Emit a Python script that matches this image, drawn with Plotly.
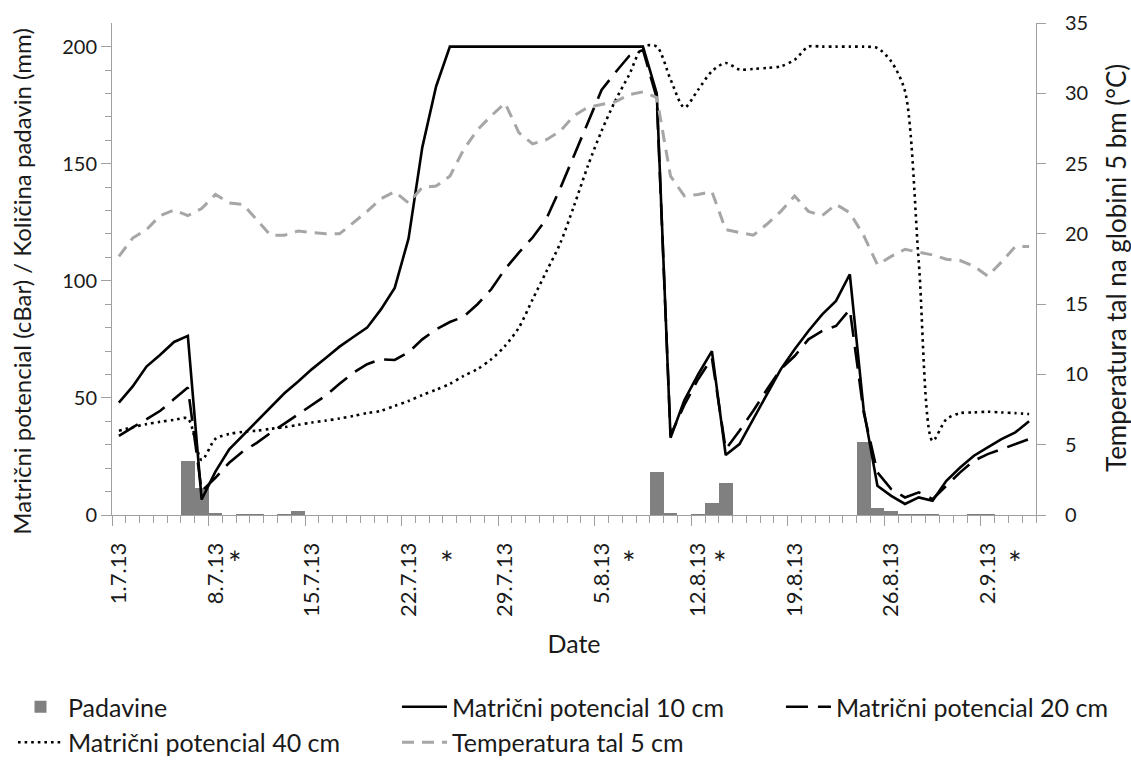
import pandas as pd
import plotly.graph_objects as go

# Daily series, 1.7.2013 - 5.9.2013
start = pd.Timestamp("2013-07-01")
dates = pd.date_range(start, periods=67, freq="D")

# Padavine (mm)
padavine = [0, 0, 0, 0, 0, 23.2, 11.6, 0.5, 0, 0.4, 0.4, 0, 0.4, 1.6, 0, 0, 0, 0, 0, 0,
            0, 0, 0, 0, 0, 0, 0, 0, 0, 0, 0, 0, 0, 0, 0, 0, 0, 0, 0, 18.3,
            0.5, 0, 0.4, 5.0, 13.6, 0, 0, 0, 0, 0, 0, 0, 0, 0, 31.1, 3.2, 1.5, 0.4, 0.4, 0.4,
            0, 0, 0.4, 0.4, 0, 0, 0]

# Matrični potencial 10 cm (cBar)
mp10 = [48.0, 54.9, 63.4, 68.4, 73.9, 76.5, 6.6, 18.5, 28.0, 34.0,
        40.2, 46.2, 52.0, 57.0, 62.3, 67.0, 71.9, 76.0, 80.0, 87.8,
        97.0, 118.0, 157.0, 183.0, 200, 200, 200, 200, 200, 200,
        200, 200, 200, 200, 200, 200, 200, 200, 200, 180.0,
        33.0, 49.0, 60.0, 70.0, 25.6, 30.3, 40.9, 51.6, 62.3, 70.8,
        78.6, 85.7, 91.4, 102.8, 45.2, 12.5, 8.2, 4.7, 7.5, 6.1,
        14.6, 20.3, 25.3, 28.9, 32.4, 35.3, 40.0]

# Matrični potencial 20 cm (cBar)
mp20 = [33.8, 37.4, 40.9, 44.5, 49.5, 54.4, 10.2, 15.9, 22.3, 27.2,
        30.8, 35.1, 39.0, 43.0, 47.0, 51.0, 56.0, 60.8, 64.4, 66.5,
        66.2, 69.5, 75.0, 79.3, 82.4, 84.7, 90.0, 96.4, 105.0, 112.0,
        118.5, 126.5, 139.5, 153.5, 167.0, 181.5, 189.0, 196.0, 198.6, 178.0,
        34.0, 47.0, 58.0, 67.0, 28.1, 36.0, 44.5, 53.7, 62.3, 67.9,
        75.0, 78.6, 80.7, 87.8, 44.0, 18.2, 11.1, 7.5, 9.7, 6.8,
        12.5, 18.2, 23.2, 26.0, 28.1, 30.3, 32.4]

# Matrični potencial 40 cm (cBar)
mp40 = [36.0, 37.5, 38.8, 39.8, 40.6, 41.2, 23.5, 32.5, 34.6, 35.5,
        36.0, 36.8, 37.5, 38.5, 39.5, 40.3, 41.2, 42.3, 43.5, 44.5,
        46.6, 48.7, 51.2, 53.5, 56.0, 59.4, 62.3, 66.5, 72.2, 80.0,
        92.1, 104.0, 116.0, 132.0, 149.0, 164.0, 177.0, 188.0, 200, 200,
        186.0, 174.0, 181.6, 189.5, 193.0, 190.2, 190.5, 190.9, 191.6, 194.4,
        200, 200, 200, 200, 200, 199.4, 193.7, 181.0, 108.0, 31.7,
        40.9, 43.5, 43.8, 44.1, 43.8, 43.5, 43.1]

# Temperatura tal 5 cm (°C)
temp5 = [18.4, 19.7, 20.3, 21.3, 21.7, 21.3, 21.8, 22.8, 22.2, 22.1,
         21.0, 19.9, 19.9, 20.2, 20.1, 20.0, 20.0, 20.8, 21.6, 22.5,
         23.0, 22.2, 23.3, 23.4, 24.1, 26.0, 27.4, 28.4, 29.3, 27.2,
         26.4, 26.7, 27.3, 28.4, 29.0, 29.2, 29.4, 29.9, 30.1, 29.7,
         24.1, 22.7, 22.8, 23.0, 20.3, 20.1, 19.9, 20.7, 21.6, 22.7,
         21.6, 21.3, 22.1, 21.5, 19.9, 17.8, 18.4, 18.9, 18.7, 18.5,
         18.2, 18.1, 17.7, 17.0, 18.0, 19.1, 19.1]

week_labels = ["1.7.13", "8.7.13", "15.7.13", "22.7.13", "29.7.13",
               "5.8.13", "12.8.13", "19.8.13", "26.8.13", "2.9.13"]
left_ticks = [0, 50, 100, 150, 200]
right_ticks = [0, 5, 10, 15, 20, 25, 30, 35]

# day offsets (from 1.7.13) of the "*" markers below the date axis
star_days = [8.4, 23.8, 37.0, 43.6, 65.0]

FONT = "Lato, Carlito, Calibri, sans-serif"
TXT = "#1a1a1a"
AX = "#a0a0a0"
half_day = pd.Timedelta(hours=12)
week_ticks = [start + pd.Timedelta(days=7 * k) - half_day for k in range(len(week_labels))]

fig = go.Figure()
fig.add_trace(go.Bar(x=dates, y=padavine, name="Padavine", width=86400000, legend="legend",
                     marker=dict(color="#808080", line=dict(width=0))))
fig.add_trace(go.Scatter(x=dates, y=mp10, name="Matrični potencial 10 cm", mode="lines",
                         legend="legend2", line=dict(color="black", width=2.6)))
fig.add_trace(go.Scatter(x=dates, y=mp20, name="Matrični potencial 20 cm", mode="lines",
                         legend="legend3", line=dict(color="black", width=2.6, dash="22px,10px")))
fig.add_trace(go.Scatter(x=dates, y=mp40, name="Matrični potencial 40 cm", mode="lines",
                         legend="legend",
                         line=dict(color="black", width=2.6, dash="2.6px,4px",
                                   shape="spline", smoothing=0.8)))
fig.add_trace(go.Scatter(x=dates, y=temp5, name="Temperatura tal 5 cm", mode="lines",
                         yaxis="y2", legend="legend2",
                         line=dict(color="#a6a6a6", width=3, dash="12px,8px")))

for d in star_days:
    fig.add_annotation(x=start + pd.Timedelta(days=d), y=-0.097, xref="x", yref="paper",
                       text="*", showarrow=False, yanchor="middle",
                       font=dict(family=FONT, size=32, color=TXT))

# vertical axis titles
fig.add_annotation(text="Matrični potencial (cBar) / Količina padavin (mm)", textangle=-90,
                   xref="paper", yref="paper", x=-0.0974, y=0.474,
                   xanchor="center", yanchor="middle", showarrow=False,
                   font=dict(family=FONT, size=24, color=TXT))
fig.add_annotation(text="Temperatura tal na globini 5 bm (°C)", textangle=-90,
                   xref="paper", yref="paper", x=1.0866, y=0.502,
                   xanchor="center", yanchor="middle", showarrow=False,
                   font=dict(family=FONT, size=26, color=TXT))

legend_style = dict(orientation="v", xref="container", yref="container", y=0.1,
                    xanchor="left", yanchor="top", font=dict(family=FONT, size=25, color=TXT),
                    itemwidth=45, tracegroupgap=0, bgcolor="rgba(0,0,0,0)")

fig.update_layout(
    width=1131, height=760,
    margin=dict(l=112, r=95, t=23, b=245, autoexpand=False),
    paper_bgcolor="white", plot_bgcolor="white",
    font=dict(family=FONT, color=TXT),
    bargap=0,
    showlegend=True,
    legend=dict(x=0.0115, **legend_style),
    legend2=dict(x=0.351, **legend_style),
    legend3=dict(x=0.6905, **legend_style),
    xaxis=dict(type="date", range=[start - half_day, dates[-1] + half_day],
               tickmode="array", tickvals=week_ticks, ticktext=week_labels,
               tickangle=-90, ticks="outside", ticklen=10, tickcolor=AX, tickwidth=1,
               ticklabelshift=7, ticklabelstandoff=8,
               minor=dict(ticks="outside", ticklen=6.5, tickcolor=AX, tickwidth=1,
                          tick0=start - half_day, dtick=86400000),
               showline=True, linecolor=AX, linewidth=1, showgrid=False, zeroline=False,
               tickfont=dict(family=FONT, size=22, color=TXT),
               title=dict(text="Date", standoff=19, font=dict(family=FONT, size=25, color=TXT)),
               automargin=False),
    yaxis=dict(range=[0, 210.1], tickmode="array", tickvals=left_ticks,
               ticks="outside", ticklen=10, tickcolor=AX, tickwidth=1,
               minor=dict(ticks="outside", ticklen=6, tickcolor=AX, tickwidth=1,
                          tickmode="array",
                          tickvals=[v for v in range(10, 201, 10) if v % 50]),
               showline=True, linecolor=AX, linewidth=1, showgrid=False, zeroline=False,
               tickfont=dict(family=FONT, size=20, color=TXT),
               automargin=False),
    yaxis2=dict(overlaying="y", side="right", anchor="x", range=[0, 35],
                tickmode="array", tickvals=right_ticks,
                ticks="outside", ticklen=9, tickcolor=AX, tickwidth=1, ticklabelstandoff=15,
                showline=True, linecolor=AX, linewidth=1, showgrid=False, zeroline=False,
                tickfont=dict(family=FONT, size=20, color=TXT),
                automargin=False),
)

fig.write_html("out.html")
